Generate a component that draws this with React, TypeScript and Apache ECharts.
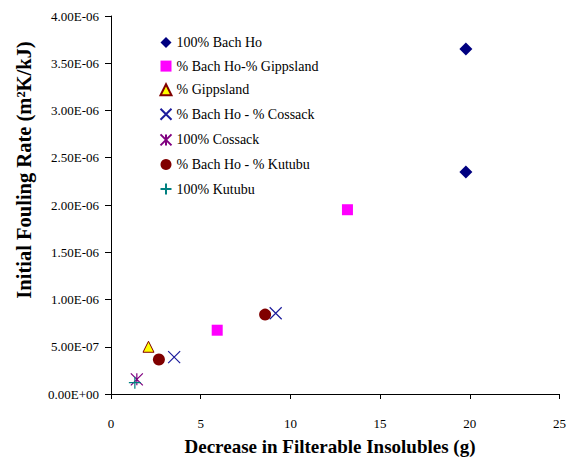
import React, { useEffect, useRef } from "react";
import * as echarts from "echarts";

const seriesNames = [
  "100% Bach Ho",
  "% Bach Ho-% Gippsland",
  "% Gippsland",
  "% Bach Ho - % Cossack",
  "100% Cossack",
  "% Bach Ho - % Kutubu",
  "100% Kutubu",
];

const bachHo = [[19.78, 3.65e-6], [19.78, 2.35e-6]];
const bachHoGippsland = [[13.18, 1.95e-6], [5.92, 6.75e-7]];
const gippsland = [[2.09, 5.0e-7]];
const bachHoCossack = [[9.18, 8.55e-7], [3.52, 3.9e-7]];
const cossack = [[1.44, 1.55e-7]];
const bachHoKutubu = [[8.59, 8.4e-7], [2.67, 3.65e-7]];
const kutubu = [[1.33, 1.2e-7]];

const xTicks = { min: 0, max: 25, interval: 5 };
const yTicks = { min: 0, max: 4e-6, interval: 5e-7 };

const xTitle = "Decrease in Filterable Insolubles (g)";
const yTitle = "Initial Fouling Rate (m²K/kJ)";

const FONT = "'Liberation Serif', 'Times New Roman', serif";

function fmtExp(v: number): string {
  const s = v.toExponential(2);
  const [m, e] = s.split("e");
  const n = parseInt(e, 10);
  return m + "E" + (n < 0 ? "-" : "+") + String(Math.abs(n)).padStart(2, "0");
}

export default function App() {
  const ref = useRef<HTMLDivElement>(null);
  useEffect(() => {
    if (!ref.current) return;
    const chart = echarts.init(ref.current, undefined, { renderer: "svg" });
    const mk = (name: string, data: number[][], symbol: string, size: number, itemStyle: any) => ({
      name,
      type: "scatter",
      data,
      symbol,
      symbolSize: size,
      itemStyle: { opacity: 1, ...itemStyle },
      emphasis: { disabled: true },
    });
    chart.setOption({
      animation: false,
      textStyle: { fontFamily: FONT },
      grid: { left: 111, top: 16, width: 450, height: 378, containLabel: false },
      legend: {
        orient: "vertical",
        left: 158,
        top: 35.5,
        padding: 0,
        itemWidth: 11,
        itemHeight: 11,
        itemGap: 9.6,
        textStyle: { fontFamily: FONT, fontSize: 14, color: "#000" },
        data: seriesNames,
      },
      graphic: [
        {
          type: "text",
          x: 24,
          y: 170,
          rotation: Math.PI / 2,
          style: {
            text: yTitle,
            fontFamily: FONT,
            fontSize: 20.5,
            fontWeight: "bold",
            fill: "#000",
            align: "center",
            verticalAlign: "middle",
          },
        },
        {
          type: "text",
          x: 330,
          y: 446,
          style: {
            text: xTitle,
            fontFamily: FONT,
            fontSize: 19,
            fontWeight: "bold",
            fill: "#000",
            align: "center",
            verticalAlign: "middle",
          },
        },
      ],
      xAxis: {
        type: "value",
        min: xTicks.min,
        max: xTicks.max,
        interval: xTicks.interval,
        axisLine: { lineStyle: { color: "#000", width: 1 } },
        axisTick: { show: true, inside: false, length: 5, lineStyle: { color: "#000" } },
        axisLabel: { color: "#000", fontFamily: FONT, fontSize: 13, margin: 23 },
        splitLine: { show: false },
      },
      yAxis: {
        type: "value",
        min: yTicks.min,
        max: yTicks.max,
        interval: yTicks.interval,
        axisLine: { show: true, lineStyle: { color: "#000", width: 1 } },
        axisTick: { show: true, inside: false, length: 6, lineStyle: { color: "#000" } },
        axisLabel: { color: "#000", fontFamily: FONT, fontSize: 13, margin: 12, formatter: fmtExp },
        splitLine: { show: false },
      },
      series: [
        mk(seriesNames[0], bachHo, "diamond", 13, { color: "#000080" }),
        mk(seriesNames[1], bachHoGippsland, "rect", 11, { color: "#FF00FF" }),
        mk(seriesNames[2], gippsland, "triangle", 11, { color: "#FFFF00", borderColor: "#800000", borderWidth: 1 }),
        mk(seriesNames[3], bachHoCossack, "path://M0,0L10,10M10,0L0,10", 12, { color: "none", borderColor: "#1c1c9c", borderWidth: 1.2 }),
        mk(seriesNames[4], cossack, "path://M0,0L10,10M10,0L0,10M5,0L5,10", 12, { color: "none", borderColor: "#800080", borderWidth: 1.2 }),
        mk(seriesNames[5], bachHoKutubu, "circle", 12, { color: "#800000" }),
        mk(seriesNames[6], kutubu, "path://M5,0L5,10M0,5L10,5", 12, { color: "none", borderColor: "#008080", borderWidth: 1.2 }),
      ],
    });
    return () => chart.dispose();
  }, []);
  return (
    <div
      ref={ref}
      style={{ position: "absolute", left: 0, top: 0, width: 569, height: 457, background: "#fff" }}
    />
  );
}
